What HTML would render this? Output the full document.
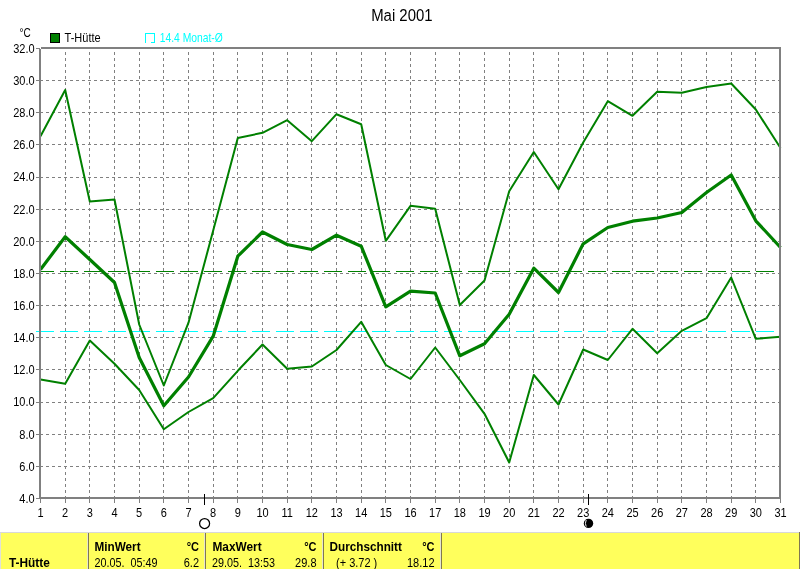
<!DOCTYPE html>
<html><head><meta charset="utf-8"><title>Mai 2001</title>
<style>
html,body{margin:0;padding:0;background:#fff;}
body{width:800px;height:569px;overflow:hidden;position:relative;font-family:"Liberation Sans",sans-serif;}
svg{position:absolute;left:0;top:0;}
svg text{font-family:"Liberation Sans",sans-serif;white-space:pre;}
</style></head><body>
<svg width="800" height="569" viewBox="0 0 800 569">
<rect x="0" y="0" width="800" height="569" fill="#ffffff"/>
<g stroke="#808080" stroke-width="1" stroke-dasharray="3 3" stroke-dashoffset="3" shape-rendering="crispEdges"><line x1="65.5" y1="49" x2="65.5" y2="497"/><line x1="89.5" y1="49" x2="89.5" y2="497"/><line x1="114.5" y1="49" x2="114.5" y2="497"/><line x1="139.5" y1="49" x2="139.5" y2="497"/><line x1="163.5" y1="49" x2="163.5" y2="497"/><line x1="188.5" y1="49" x2="188.5" y2="497"/><line x1="213.5" y1="49" x2="213.5" y2="497"/><line x1="237.5" y1="49" x2="237.5" y2="497"/><line x1="262.5" y1="49" x2="262.5" y2="497"/><line x1="287.5" y1="49" x2="287.5" y2="497"/><line x1="311.5" y1="49" x2="311.5" y2="497"/><line x1="336.5" y1="49" x2="336.5" y2="497"/><line x1="361.5" y1="49" x2="361.5" y2="497"/><line x1="385.5" y1="49" x2="385.5" y2="497"/><line x1="410.5" y1="49" x2="410.5" y2="497"/><line x1="435.5" y1="49" x2="435.5" y2="497"/><line x1="459.5" y1="49" x2="459.5" y2="497"/><line x1="484.5" y1="49" x2="484.5" y2="497"/><line x1="509.5" y1="49" x2="509.5" y2="497"/><line x1="533.5" y1="49" x2="533.5" y2="497"/><line x1="558.5" y1="49" x2="558.5" y2="497"/><line x1="583.5" y1="49" x2="583.5" y2="497"/><line x1="607.5" y1="49" x2="607.5" y2="497"/><line x1="632.5" y1="49" x2="632.5" y2="497"/><line x1="657.5" y1="49" x2="657.5" y2="497"/><line x1="681.5" y1="49" x2="681.5" y2="497"/><line x1="706.5" y1="49" x2="706.5" y2="497"/><line x1="731.5" y1="49" x2="731.5" y2="497"/><line x1="755.5" y1="49" x2="755.5" y2="497"/></g>
<g stroke="#808080" stroke-width="1" stroke-dasharray="3 3" shape-rendering="crispEdges"><line x1="40" y1="466.5" x2="779" y2="466.5"/><line x1="40" y1="434.5" x2="779" y2="434.5"/><line x1="40" y1="402.5" x2="779" y2="402.5"/><line x1="40" y1="369.5" x2="779" y2="369.5"/><line x1="40" y1="337.5" x2="779" y2="337.5"/><line x1="40" y1="305.5" x2="779" y2="305.5"/><line x1="40" y1="273.5" x2="779" y2="273.5"/><line x1="40" y1="241.5" x2="779" y2="241.5"/><line x1="40" y1="209.5" x2="779" y2="209.5"/><line x1="40" y1="177.5" x2="779" y2="177.5"/><line x1="40" y1="144.5" x2="779" y2="144.5"/><line x1="40" y1="112.5" x2="779" y2="112.5"/><line x1="40" y1="80.5" x2="779" y2="80.5"/></g>
<line x1="41" y1="271.5" x2="779" y2="271.5" stroke="#008000" stroke-width="1" stroke-dasharray="18 6" stroke-dashoffset="5" shape-rendering="crispEdges"/>
<line x1="36" y1="331.5" x2="781" y2="331.5" stroke="#00ffff" stroke-width="1" stroke-dasharray="18 6" shape-rendering="crispEdges"/>
<g stroke="#808080" stroke-width="1" shape-rendering="crispEdges"><line x1="36" y1="498.5" x2="40" y2="498.5"/><line x1="36" y1="466.5" x2="40" y2="466.5"/><line x1="36" y1="434.5" x2="40" y2="434.5"/><line x1="36" y1="402.5" x2="40" y2="402.5"/><line x1="36" y1="369.5" x2="40" y2="369.5"/><line x1="36" y1="337.5" x2="40" y2="337.5"/><line x1="36" y1="305.5" x2="40" y2="305.5"/><line x1="36" y1="273.5" x2="40" y2="273.5"/><line x1="36" y1="241.5" x2="40" y2="241.5"/><line x1="36" y1="209.5" x2="40" y2="209.5"/><line x1="36" y1="177.5" x2="40" y2="177.5"/><line x1="36" y1="144.5" x2="40" y2="144.5"/><line x1="36" y1="112.5" x2="40" y2="112.5"/><line x1="36" y1="80.5" x2="40" y2="80.5"/><line x1="36" y1="48.5" x2="40" y2="48.5"/><line x1="40.5" y1="499" x2="40.5" y2="503"/><line x1="65.5" y1="499" x2="65.5" y2="503"/><line x1="89.5" y1="499" x2="89.5" y2="503"/><line x1="114.5" y1="499" x2="114.5" y2="503"/><line x1="139.5" y1="499" x2="139.5" y2="503"/><line x1="163.5" y1="499" x2="163.5" y2="503"/><line x1="188.5" y1="499" x2="188.5" y2="503"/><line x1="213.5" y1="499" x2="213.5" y2="503"/><line x1="237.5" y1="499" x2="237.5" y2="503"/><line x1="262.5" y1="499" x2="262.5" y2="503"/><line x1="287.5" y1="499" x2="287.5" y2="503"/><line x1="311.5" y1="499" x2="311.5" y2="503"/><line x1="336.5" y1="499" x2="336.5" y2="503"/><line x1="361.5" y1="499" x2="361.5" y2="503"/><line x1="385.5" y1="499" x2="385.5" y2="503"/><line x1="410.5" y1="499" x2="410.5" y2="503"/><line x1="435.5" y1="499" x2="435.5" y2="503"/><line x1="459.5" y1="499" x2="459.5" y2="503"/><line x1="484.5" y1="499" x2="484.5" y2="503"/><line x1="509.5" y1="499" x2="509.5" y2="503"/><line x1="533.5" y1="499" x2="533.5" y2="503"/><line x1="558.5" y1="499" x2="558.5" y2="503"/><line x1="583.5" y1="499" x2="583.5" y2="503"/><line x1="607.5" y1="499" x2="607.5" y2="503"/><line x1="632.5" y1="499" x2="632.5" y2="503"/><line x1="657.5" y1="499" x2="657.5" y2="503"/><line x1="681.5" y1="499" x2="681.5" y2="503"/><line x1="706.5" y1="499" x2="706.5" y2="503"/><line x1="731.5" y1="499" x2="731.5" y2="503"/><line x1="755.5" y1="499" x2="755.5" y2="503"/><line x1="780.5" y1="499" x2="780.5" y2="503"/></g>
<g fill="none" stroke="#008000" stroke-linejoin="round" stroke-linecap="butt">
<polyline stroke-width="2" points="40.5,136.2 65.2,90.0 89.8,201.5 114.5,199.5 139.2,324.5 163.8,385.5 188.5,322.7 213.2,230.5 237.8,138.0 262.5,132.8 287.2,120.2 311.8,141.2 336.5,114.2 361.2,124.2 385.8,240.8 410.5,205.8 435.2,208.8 459.8,305.0 484.5,280.5 509.2,191.2 533.8,152.0 558.5,189.2 583.2,142.5 607.8,101.2 632.5,115.8 657.2,91.8 681.8,92.8 706.5,87.0 731.2,83.5 755.8,109.5 780.5,148.0"/>
<polyline stroke-width="2" points="40.5,379.5 65.2,383.8 89.8,340.5 114.5,363.8 139.2,390.0 163.8,429.2 188.5,412.0 213.2,398.2 237.8,370.8 262.5,344.5 287.2,368.8 311.8,366.5 336.5,350.0 361.2,321.8 385.8,365.0 410.5,379.0 435.2,347.5 459.8,380.0 484.5,413.8 509.2,462.5 533.8,375.0 558.5,404.5 583.2,349.5 607.8,360.0 632.5,328.8 657.2,353.2 681.8,330.8 706.5,318.2 731.2,277.5 755.8,338.8 780.5,336.8"/>
<polyline stroke-width="3.2" points="40.5,269.5 65.2,236.8 89.8,259.5 114.5,282.5 139.2,357.5 163.8,405.8 188.5,377.0 213.2,336.2 237.8,256.2 262.5,232.0 287.2,244.5 311.8,249.5 336.5,235.2 361.2,246.2 385.8,306.8 410.5,291.2 435.2,293.0 459.8,355.8 484.5,343.8 509.2,314.2 533.8,268.2 558.5,292.5 583.2,243.8 607.8,227.5 632.5,221.2 657.2,218.0 681.8,212.5 706.5,192.5 731.2,175.0 755.8,220.8 780.5,247.5"/>
</g>
<g fill="#808080" shape-rendering="crispEdges"><rect x="41" y="47" width="740" height="2"/><rect x="39" y="49" width="2" height="450"/><rect x="39" y="497" width="742" height="2"/><rect x="779" y="47" width="2" height="452"/></g>
<g fill="#000">
<text transform="translate(34.60 502.90) scale(0.880 1)" font-size="12.5" text-anchor="end">4.0</text><text transform="translate(34.60 470.76) scale(0.880 1)" font-size="12.5" text-anchor="end">6.0</text><text transform="translate(34.60 438.61) scale(0.880 1)" font-size="12.5" text-anchor="end">8.0</text><text transform="translate(34.60 406.47) scale(0.880 1)" font-size="12.5" text-anchor="end">10.0</text><text transform="translate(34.60 374.33) scale(0.880 1)" font-size="12.5" text-anchor="end">12.0</text><text transform="translate(34.60 342.19) scale(0.880 1)" font-size="12.5" text-anchor="end">14.0</text><text transform="translate(34.60 310.04) scale(0.880 1)" font-size="12.5" text-anchor="end">16.0</text><text transform="translate(34.60 277.90) scale(0.880 1)" font-size="12.5" text-anchor="end">18.0</text><text transform="translate(34.60 245.76) scale(0.880 1)" font-size="12.5" text-anchor="end">20.0</text><text transform="translate(34.60 213.61) scale(0.880 1)" font-size="12.5" text-anchor="end">22.0</text><text transform="translate(34.60 181.47) scale(0.880 1)" font-size="12.5" text-anchor="end">24.0</text><text transform="translate(34.60 149.33) scale(0.880 1)" font-size="12.5" text-anchor="end">26.0</text><text transform="translate(34.60 117.19) scale(0.880 1)" font-size="12.5" text-anchor="end">28.0</text><text transform="translate(34.60 85.04) scale(0.880 1)" font-size="12.5" text-anchor="end">30.0</text><text transform="translate(34.60 52.90) scale(0.880 1)" font-size="12.5" text-anchor="end">32.0</text>
<text transform="translate(40.50 516.90) scale(0.880 1)" font-size="12.5" text-anchor="middle">1</text><text transform="translate(65.17 516.90) scale(0.880 1)" font-size="12.5" text-anchor="middle">2</text><text transform="translate(89.83 516.90) scale(0.880 1)" font-size="12.5" text-anchor="middle">3</text><text transform="translate(114.50 516.90) scale(0.880 1)" font-size="12.5" text-anchor="middle">4</text><text transform="translate(139.17 516.90) scale(0.880 1)" font-size="12.5" text-anchor="middle">5</text><text transform="translate(163.84 516.90) scale(0.880 1)" font-size="12.5" text-anchor="middle">6</text><text transform="translate(188.50 516.90) scale(0.880 1)" font-size="12.5" text-anchor="middle">7</text><text transform="translate(213.17 516.90) scale(0.880 1)" font-size="12.5" text-anchor="middle">8</text><text transform="translate(237.84 516.90) scale(0.880 1)" font-size="12.5" text-anchor="middle">9</text><text transform="translate(262.50 516.90) scale(0.880 1)" font-size="12.5" text-anchor="middle">10</text><text transform="translate(287.17 516.90) scale(0.880 1)" font-size="12.5" text-anchor="middle">11</text><text transform="translate(311.84 516.90) scale(0.880 1)" font-size="12.5" text-anchor="middle">12</text><text transform="translate(336.50 516.90) scale(0.880 1)" font-size="12.5" text-anchor="middle">13</text><text transform="translate(361.17 516.90) scale(0.880 1)" font-size="12.5" text-anchor="middle">14</text><text transform="translate(385.84 516.90) scale(0.880 1)" font-size="12.5" text-anchor="middle">15</text><text transform="translate(410.50 516.90) scale(0.880 1)" font-size="12.5" text-anchor="middle">16</text><text transform="translate(435.17 516.90) scale(0.880 1)" font-size="12.5" text-anchor="middle">17</text><text transform="translate(459.84 516.90) scale(0.880 1)" font-size="12.5" text-anchor="middle">18</text><text transform="translate(484.51 516.90) scale(0.880 1)" font-size="12.5" text-anchor="middle">19</text><text transform="translate(509.17 516.90) scale(0.880 1)" font-size="12.5" text-anchor="middle">20</text><text transform="translate(533.84 516.90) scale(0.880 1)" font-size="12.5" text-anchor="middle">21</text><text transform="translate(558.51 516.90) scale(0.880 1)" font-size="12.5" text-anchor="middle">22</text><text transform="translate(583.17 516.90) scale(0.880 1)" font-size="12.5" text-anchor="middle">23</text><text transform="translate(607.84 516.90) scale(0.880 1)" font-size="12.5" text-anchor="middle">24</text><text transform="translate(632.51 516.90) scale(0.880 1)" font-size="12.5" text-anchor="middle">25</text><text transform="translate(657.18 516.90) scale(0.880 1)" font-size="12.5" text-anchor="middle">26</text><text transform="translate(681.84 516.90) scale(0.880 1)" font-size="12.5" text-anchor="middle">27</text><text transform="translate(706.51 516.90) scale(0.880 1)" font-size="12.5" text-anchor="middle">28</text><text transform="translate(731.18 516.90) scale(0.880 1)" font-size="12.5" text-anchor="middle">29</text><text transform="translate(755.84 516.90) scale(0.880 1)" font-size="12.5" text-anchor="middle">30</text><text transform="translate(780.51 516.90) scale(0.880 1)" font-size="12.5" text-anchor="middle">31</text>
<text transform="translate(19.40 37.00) scale(0.800 1)" font-size="12.5">°C</text><text transform="translate(371.20 20.80) scale(0.915 1)" font-size="16.3">Mai 2001</text></g>
<rect x="50.5" y="33.5" width="9" height="9" fill="#008000" stroke="#000" stroke-width="1" shape-rendering="crispEdges"/>
<text transform="translate(64.60 41.80) scale(0.880 1)" font-size="12.5" fill="#000">T-Hütte</text><path d="M145.5 42.5V33.5H154.5V42.5H151" fill="none" stroke="#00ffff" stroke-width="1" shape-rendering="crispEdges"/>
<text transform="translate(159.80 41.80) scale(0.825 1)" font-size="12.5" fill="#00ffff">14.4 Monat-Ø</text>
<line x1="204.5" y1="494" x2="204.5" y2="505" stroke="#000" stroke-width="1" shape-rendering="crispEdges"/>
<circle cx="204.6" cy="523.5" r="5" fill="#fff" stroke="#000" stroke-width="1.25"/>
<line x1="588.5" y1="494" x2="588.5" y2="505" stroke="#000" stroke-width="1" shape-rendering="crispEdges"/>
<circle cx="588.5" cy="523.4" r="4.7" fill="#000"/>
<path d="M586.2 520 Q584.6 523.4 586.2 526.6" fill="none" stroke="#f0f0f0" stroke-width="1"/>
<rect x="0" y="532" width="800" height="1" fill="#d8d8d8"/>
<rect x="0" y="533" width="1" height="36" fill="#e0e0d8"/>
<rect x="1" y="533" width="798" height="36" fill="#ffff5c"/>
<rect x="799" y="532" width="1" height="37" fill="#807850"/>
<rect x="87" y="533" width="1" height="36" fill="#e6e6d0"/><rect x="88" y="533" width="1" height="36" fill="#807850"/>
<rect x="204" y="533" width="1" height="36" fill="#e6e6d0"/><rect x="205" y="533" width="1" height="36" fill="#807850"/>
<rect x="322" y="533" width="1" height="36" fill="#e6e6d0"/><rect x="323" y="533" width="1" height="36" fill="#807850"/>
<rect x="440" y="533" width="1" height="36" fill="#e6e6d0"/><rect x="441" y="533" width="1" height="36" fill="#807850"/>
<g fill="#000">
<text transform="translate(9.00 566.90) scale(0.950 1)" font-size="12.5" font-weight="bold">T-Hütte</text><text transform="translate(94.50 550.90) scale(0.940 1)" font-size="12.5" font-weight="bold">MinWert</text><text transform="translate(199.00 550.90) scale(0.880 1)" font-size="12.5" text-anchor="end" font-weight="bold">°C</text><text transform="translate(94.50 566.90) scale(0.865 1)" font-size="12.5">20.05.  05:49</text><text transform="translate(199.00 566.90) scale(0.880 1)" font-size="12.5" text-anchor="end">6.2</text>
<text transform="translate(212.40 550.90) scale(0.950 1)" font-size="12.5" font-weight="bold">MaxWert</text><text transform="translate(316.50 550.90) scale(0.880 1)" font-size="12.5" text-anchor="end" font-weight="bold">°C</text><text transform="translate(212.00 566.90) scale(0.865 1)" font-size="12.5">29.05.  13:53</text><text transform="translate(316.50 566.90) scale(0.880 1)" font-size="12.5" text-anchor="end">29.8</text>
<text transform="translate(329.50 550.90) scale(0.940 1)" font-size="12.5" font-weight="bold">Durchschnitt</text><text transform="translate(434.50 550.90) scale(0.880 1)" font-size="12.5" text-anchor="end" font-weight="bold">°C</text><text transform="translate(336.00 566.90) scale(0.880 1)" font-size="12.5">(+ 3.72 )</text><text transform="translate(434.50 566.90) scale(0.880 1)" font-size="12.5" text-anchor="end">18.12</text></g>
</svg>
</body></html>
